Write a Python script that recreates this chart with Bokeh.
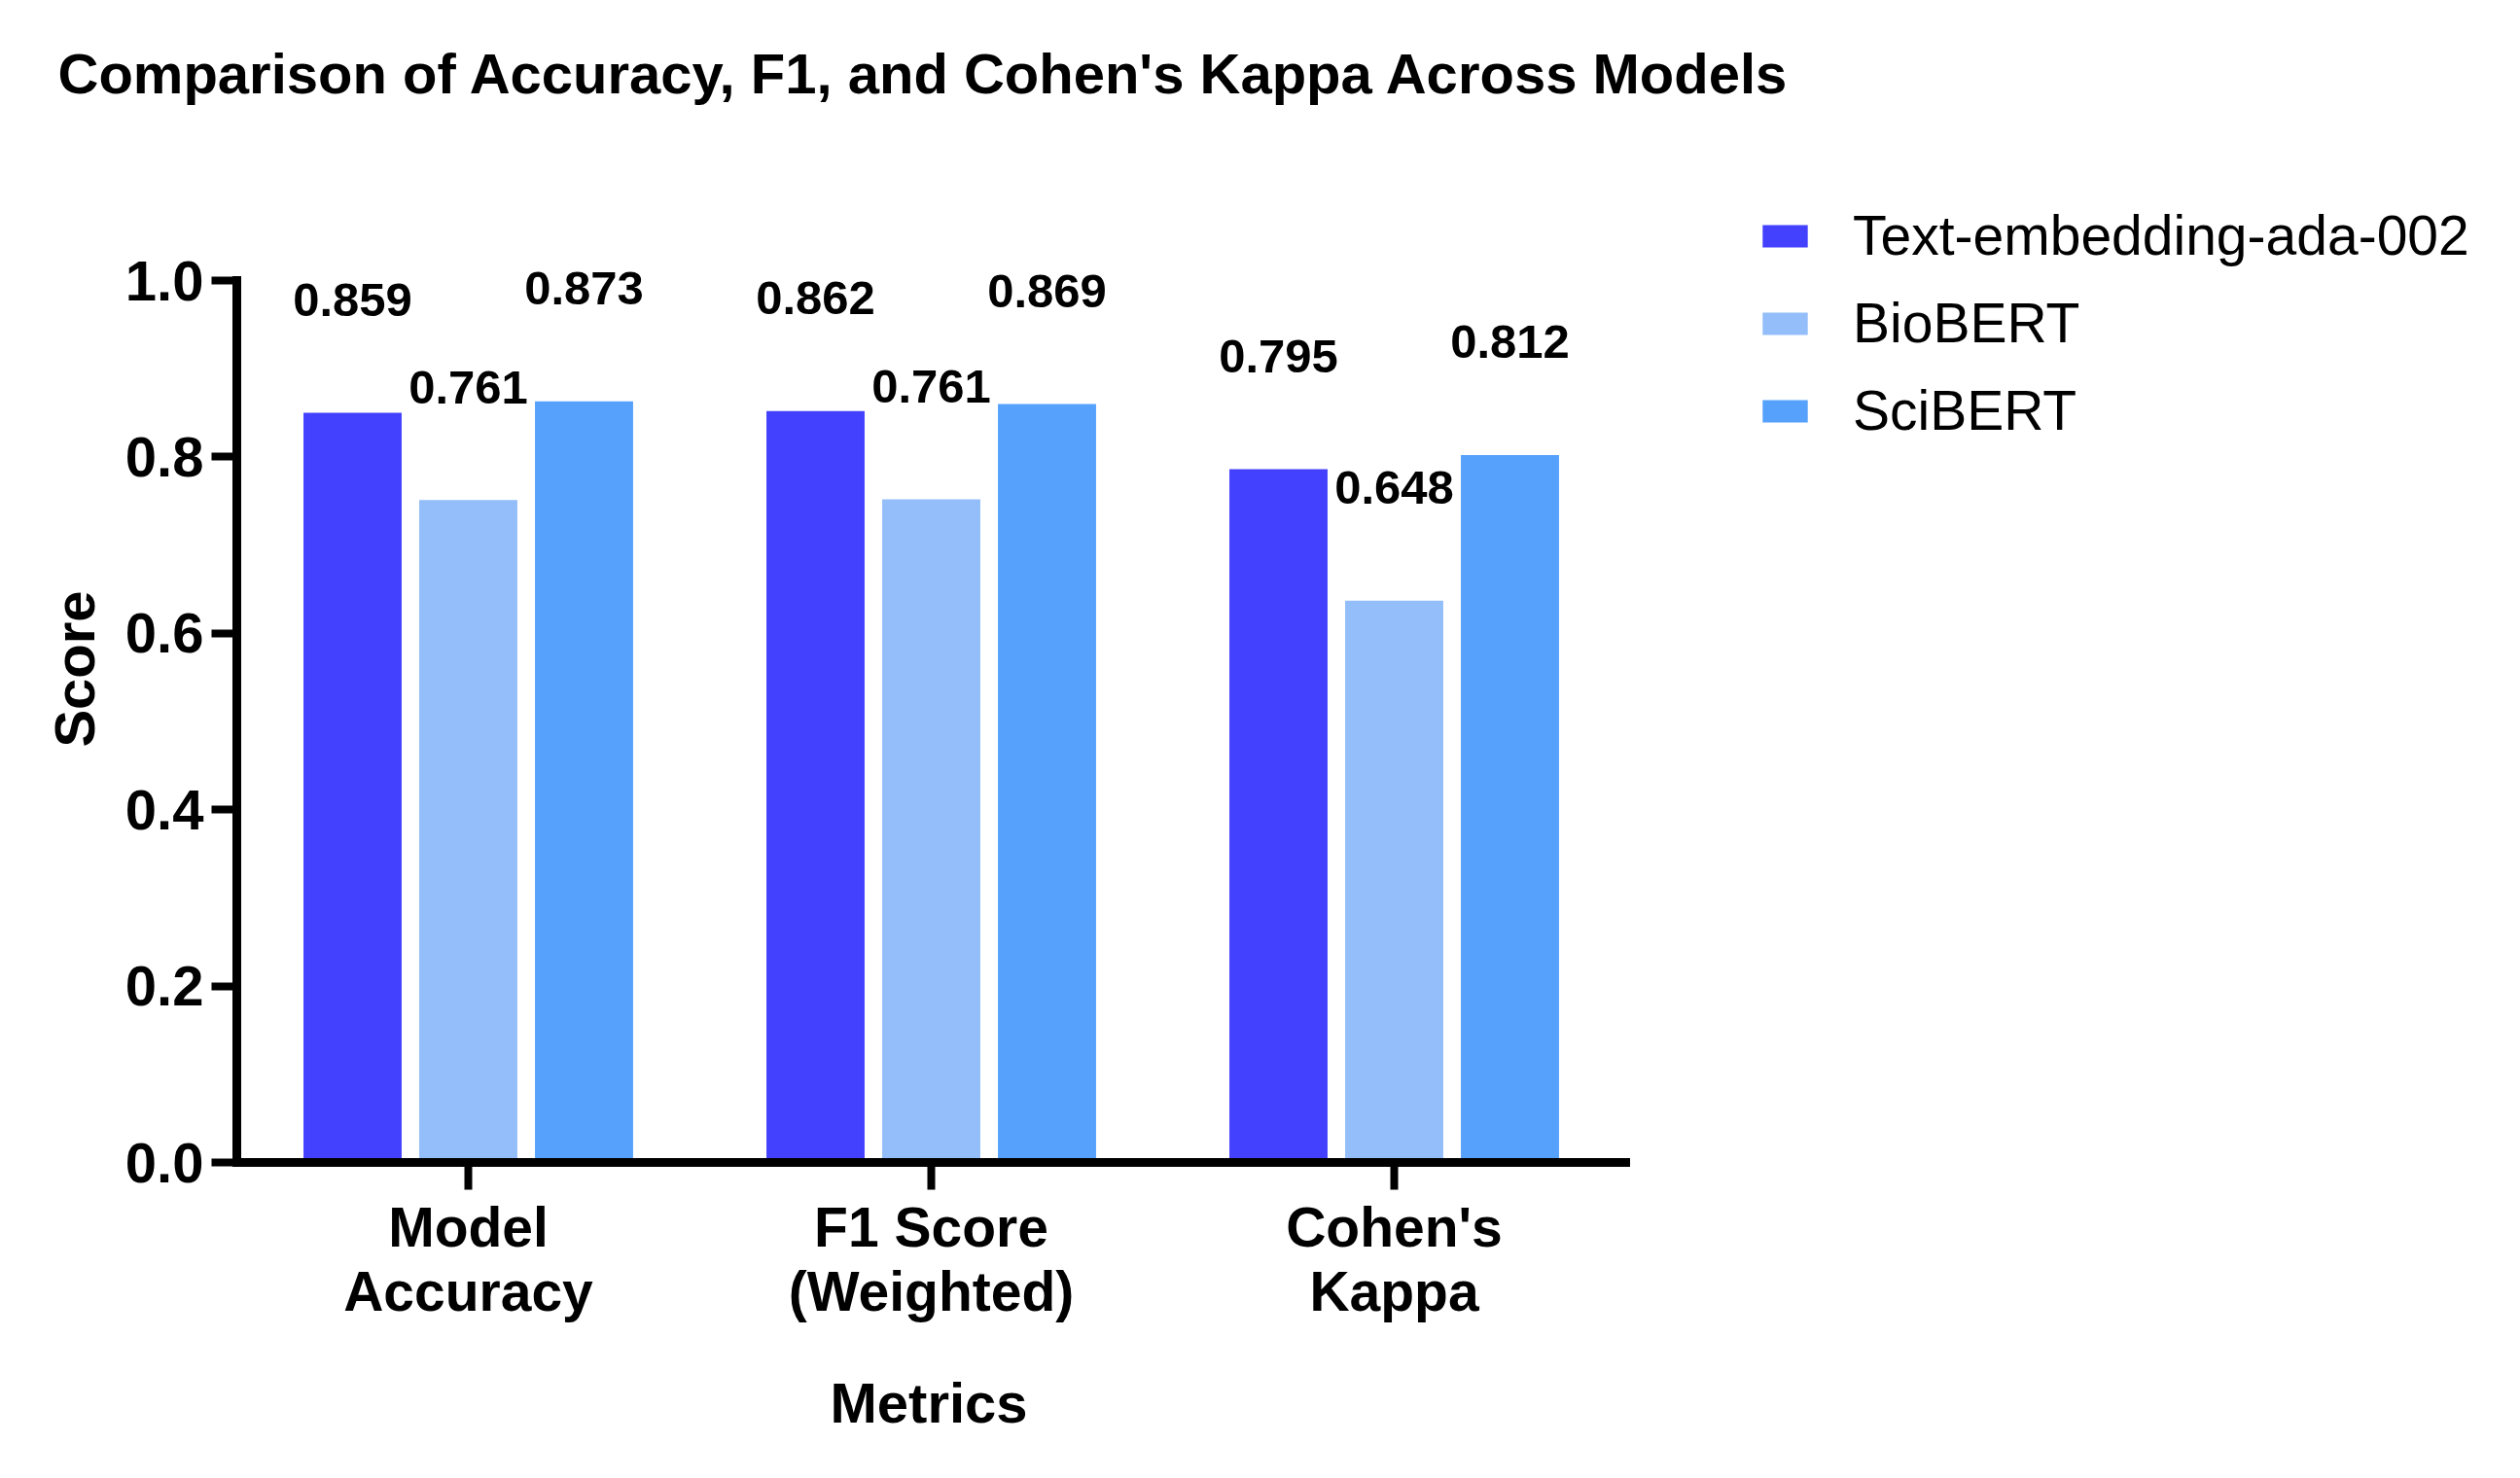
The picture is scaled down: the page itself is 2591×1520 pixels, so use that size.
import numpy as np
from bokeh.plotting import figure
from bokeh.models import (Range1d, FixedTicker, PrintfTickFormatter, ColumnDataSource,
                          Legend, LegendItem, Title)
from bokeh.core.properties import value
from bokeh.embed import file_html
from bokeh.resources import INLINE

# ---------------- data ----------------
title_text = "Comparison of Accuracy, F1, and Cohen's Kappa Across Models"
x_title = "Metrics"
y_title = "Score"
metric_labels = ["Model\nAccuracy", "F1 Score\n(Weighted)", "Cohen's\nKappa"]
models = ["Text-embedding-ada-002", "BioBERT", "SciBERT"]

# bar heights as drawn in the picture
ada_bars = [0.850, 0.852, 0.786]
bio_bars = [0.751, 0.752, 0.637]
sci_bars = [0.863, 0.860, 0.802]

# value annotations printed above the bars
ada_labels = [0.859, 0.862, 0.795]
bio_labels = [0.761, 0.761, 0.648]
sci_labels = [0.873, 0.869, 0.812]

y_ticks = [0.0, 0.2, 0.4, 0.6, 0.8, 1.0]

# ---------------- style ----------------
FONT = "Liberation Sans"
colors = ["#4441FE", "#93BEF9", "#56A1FC"]
offsets = [-0.25, 0.0, 0.25]
bar_width = 0.212
label_gap = 0.128

LEFT, TOP = 243, 180
FRAME_W, FRAME_H = 2332, 1015
px_per_x = 476.0          # pixels per category unit
px_per_y = 907.0          # pixels per score unit
x_end = -0.5 + FRAME_W / px_per_x
y_end = FRAME_H / px_per_y

p = figure(frame_width=FRAME_W, frame_height=FRAME_H,
           x_range=Range1d(-0.5, x_end), y_range=Range1d(0, y_end),
           output_backend="svg", toolbar_location=None,
           min_border_left=LEFT, min_border_right=0,
           min_border_top=TOP, min_border_bottom=0)
p.outline_line_color = None
p.xgrid.visible = False
p.ygrid.visible = False
p.background_fill_color = "white"
p.border_fill_color = "white"

xs = np.arange(len(metric_labels))
items = []
for bars, labs, off, col, name in zip([ada_bars, bio_bars, sci_bars],
                                      [ada_labels, bio_labels, sci_labels],
                                      offsets, colors, models):
    bars = np.array(bars)
    src = ColumnDataSource(dict(x=xs + off, top=bars, ly=bars + label_gap,
                                txt=[f"{v:.3f}" for v in labs]))
    r = p.vbar(x="x", top="top", bottom=0, width=bar_width, source=src,
               fill_color=col, line_color=None)
    p.text(x="x", y="ly", text="txt", source=src, text_align="center",
           text_baseline="middle", text_font=value(FONT), text_font_style="bold",
           text_font_size="49px", text_color="black")
    items.append(LegendItem(label=name, renderers=[r]))

for ax in (p.xaxis[0], p.yaxis[0]):
    ax.axis_line_width = 9
    ax.axis_line_color = "black"
    ax.axis_line_cap = "square"
    ax.major_tick_line_width = 8
    ax.major_tick_line_color = "black"
    ax.major_tick_in = 0
    ax.minor_tick_line_color = None
    ax.major_label_text_font = FONT
    ax.major_label_text_font_style = "bold"
    ax.major_label_text_color = "black"
    ax.axis_label_text_font = FONT
    ax.axis_label_text_font_style = "bold"
    ax.axis_label_text_font_size = "58px"
    ax.axis_label_text_color = "black"

p.yaxis.bounds = (0, 1)
p.yaxis.ticker = FixedTicker(ticks=y_ticks)
p.yaxis.formatter = PrintfTickFormatter(format="%.1f")
p.yaxis.major_tick_out = 26
p.yaxis.major_label_standoff = 8
p.yaxis.major_label_text_font_size = "58px"
p.yaxis.axis_label = y_title
p.yaxis.axis_label_standoff = 17

p.xaxis.bounds = (-0.5, 2.5)
p.xaxis.ticker = FixedTicker(ticks=list(xs))
p.xaxis.major_label_overrides = {int(i): lab for i, lab in zip(xs, metric_labels)}
p.xaxis.major_tick_out = 28
p.xaxis.major_label_standoff = 6
p.xaxis.major_label_text_font_size = "57px"
p.xaxis.major_label_text_line_height = 1.04

# x-axis title, centred under the three categories (not under the legend area)
p.add_layout(Title(text=x_title, text_font=FONT, text_font_size="58px",
                   text_font_style="bold", text_color="black", align="left",
                   offset=610, vertical_align="top", standoff=92), "below")

# blank spacer between the chart title and the plotting area
p.add_layout(Title(text=" ", text_font=FONT, text_font_size="10px",
                   standoff=55), "above")

p.title.text = title_text
p.title.text_font = FONT
p.title.text_font_size = "58px"
p.title.text_font_style = "bold"
p.title.text_color = "black"
p.title.align = "left"
p.title.offset = -184
p.title.vertical_align = "bottom"
p.title.standoff = 10

legend = Legend(items=items, location=(1563, 740), orientation="vertical",
                glyph_width=58, glyph_height=29, label_standoff=41,
                label_text_font=FONT, label_text_font_size="57px",
                label_text_color="black", label_height=66, spacing=24,
                padding=0, margin=0, border_line_color=None,
                background_fill_alpha=0)
p.add_layout(legend)

open("out.html", "w").write(file_html(p, INLINE))
